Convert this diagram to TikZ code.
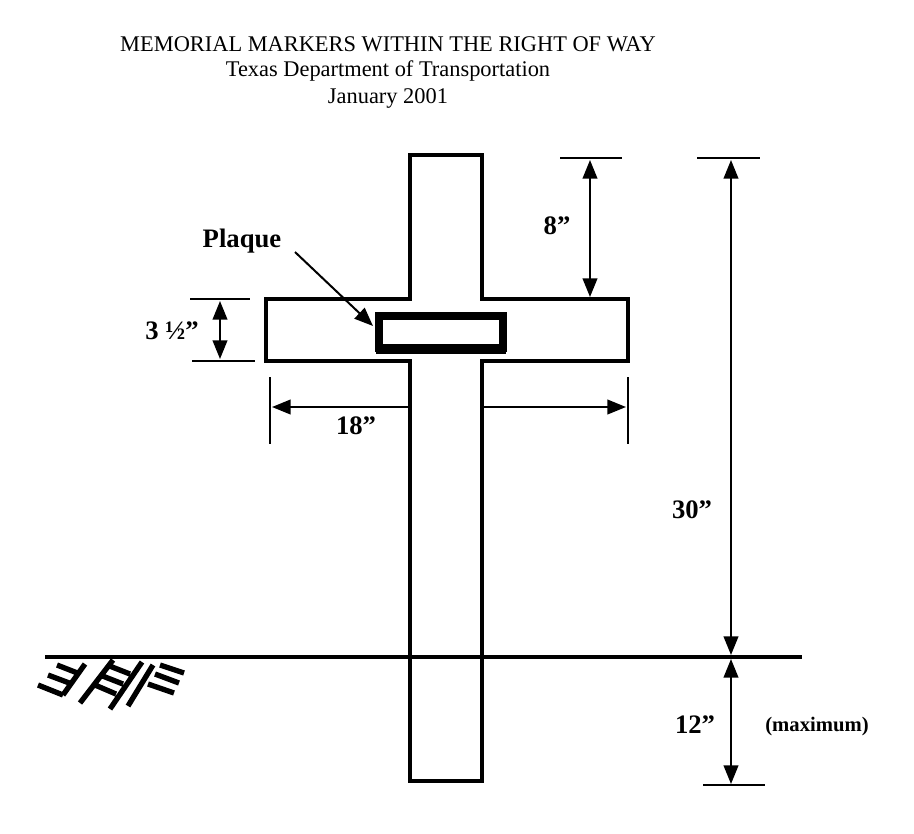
\documentclass[tikz,border=0pt]{standalone}
\usepackage{fontspec}
\setmainfont{Liberation Serif}
\usetikzlibrary{arrows.meta}
\tikzset{every picture/.style={line width=0.75pt}}
\tikzset{
  dimline/.style={line width=1.5, {Triangle[length=14pt,width=11pt]}-{Triangle[length=14pt,width=11pt]}},
  oneend/.style={line width=1.5, -{Triangle[length=14pt,width=11pt]}},
  tick/.style={line width=1.5},
  outline/.style={line width=3},
  hatch/.style={line width=4},
  dimlabel/.style={inner sep=0.75pt, font=\fontsize{20}{22}\selectfont\bfseries},
  titletext/.style={inner sep=0.75pt, font=\fontsize{16.8}{19}\selectfont}
}
\begin{document}
\begin{tikzpicture}[x=0.75pt,y=0.75pt,yscale=-1,xscale=1]
        \useasboundingbox (0,0) rectangle (914,833);
        % Title
        \node (title1) [titletext] at (388,44) {MEMORIAL MARKERS WITHIN THE RIGHT OF WAY};
        \node (title2) [titletext] at (388,71) {Texas Department of Transportation};
        \node (title3) [titletext] at (388,98) {January 2001};
        % Cross outline
        \draw [outline] (410,155) -- (482,155) -- (482,299) -- (628,299) -- (628,361) -- (482,361) -- (482,781) -- (410,781) -- (410,361) -- (266,361) -- (266,299) -- (410,299) -- cycle ;
        % Plaque
        \draw [line width=6] (379,316) rectangle (503,348) ;
        \draw [line width=1] (376,353) -- (506,353) ;
        % Ground
        \draw [outline] (45,657) -- (802,657) ;
        \draw [hatch] (63,695) -- (85,664) (57,665) -- (80,674) (48,675) -- (72,684) (38,685) -- (63,695) ;
        \draw [hatch] (80,703) -- (113,660) (110,709) -- (142,662) (107,665) -- (130,674) (100,675) -- (123,684) (95,685) -- (116,694) ;
        \draw [hatch] (128,706) -- (153,665) (160,665) -- (184,673) (155,674) -- (179,683) (148,684) -- (174,693) ;
        % 8 in
        \draw [tick] (560,158) -- (622,158) ;
        \coordinate (e8a) at (590,160);
        \coordinate (e8b) at (590,297);
        \draw [dimline] (e8a) -- (e8b) ;
        \node (d8) [dimlabel] at (557,226) {8”};
        % 30 in and 12 in
        \draw [tick] (697,158) -- (760,158) ;
        \draw [tick] (703,785) -- (765,785) ;
        \coordinate (e30a) at (731,160);
        \coordinate (e30b) at (731,655);
        \coordinate (e12a) at (731,659);
        \coordinate (e12b) at (731,784);
        \draw [dimline] (e30a) -- (e30b) ;
        \draw [dimline] (e12a) -- (e12b) ;
        \node (d30) [dimlabel] at (692,510) {30”};
        \node (d12) [dimlabel] at (695,725) {12”};
        \node (maxi) [inner sep=0.75pt, font=\fontsize{15.5}{17}\selectfont\bfseries] at (817,727) {(maximum)};
        % 3 1/2 in
        \draw [tick] (190,299) -- (250,299) (192,361) -- (255,361) ;
        \coordinate (e3a) at (220,301);
        \coordinate (e3b) at (220,359);
        \draw [dimline] (e3a) -- (e3b) ;
        \node (d3) [dimlabel] at (172,331) {3 ½”};
        % 18 in
        \draw [line width=1] (270,377) -- (270,444) (628,377) -- (628,444) ;
        \coordinate (e18a) at (410,407);
        \coordinate (e18b) at (272,407);
        \coordinate (e18c) at (482,407);
        \coordinate (e18d) at (626,407);
        \draw [oneend] (e18a) -- (e18b) ;
        \draw [oneend] (e18c) -- (e18d) ;
        \node (d18) [dimlabel] at (356,426) {18”};
        % Plaque label
        \node (plaque) [dimlabel] at (242,241) {Plaque};
        \coordinate (ptip) at (373,326);
        \draw [oneend] (295,252) -- (ptip) ;
\end{tikzpicture}
\end{document}
